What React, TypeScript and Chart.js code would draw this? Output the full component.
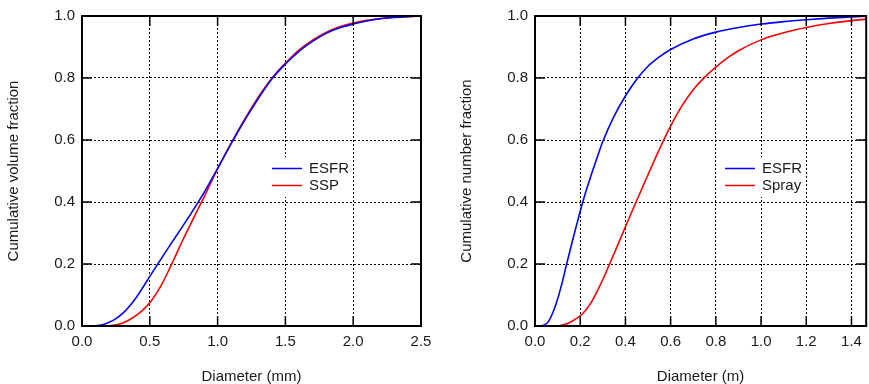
import React, { useEffect, useRef } from "react";
import { Chart, registerables } from "chart.js";

Chart.register(...registerables);

// ---- Left panel: cumulative volume fraction vs diameter (mm)
const volDiamESFR = [0, 0.1, 0.15, 0.2, 0.25, 0.3, 0.35, 0.4, 0.45, 0.5, 0.6, 0.7, 0.8, 0.9, 1.0, 1.1, 1.2, 1.3, 1.4, 1.5, 1.6, 1.7, 1.8, 1.9, 2.0, 2.1, 2.2, 2.3, 2.4, 2.5];
const volESFR = [0, 0.001, 0.004, 0.012, 0.024, 0.041, 0.064, 0.092, 0.125, 0.16, 0.228, 0.294, 0.36, 0.43, 0.508, 0.588, 0.664, 0.734, 0.797, 0.845, 0.886, 0.918, 0.944, 0.962, 0.974, 0.984, 0.991, 0.995, 0.998, 1.0];
const volDiamSSP = [0, 0.15, 0.2, 0.25, 0.3, 0.35, 0.4, 0.45, 0.5, 0.55, 0.6, 0.65, 0.7, 0.75, 0.8, 0.85, 0.9, 0.95, 1.0, 1.1, 1.2, 1.3, 1.4, 1.5, 1.6, 1.7, 1.8, 1.9, 2.0, 2.1, 2.2, 2.3, 2.4, 2.5];
const volSSP = [0, 0.0, 0.001, 0.004, 0.01, 0.02, 0.034, 0.052, 0.075, 0.106, 0.144, 0.189, 0.236, 0.283, 0.328, 0.372, 0.416, 0.462, 0.507, 0.59, 0.667, 0.738, 0.799, 0.848, 0.89, 0.922, 0.947, 0.965, 0.977, 0.986, 0.992, 0.996, 0.998, 1.0];

// ---- Right panel: cumulative number fraction vs diameter (m)
const numDiamESFR = [0, 0.03, 0.045, 0.06, 0.08, 0.1, 0.12, 0.14, 0.16, 0.18, 0.2, 0.22, 0.25, 0.27, 0.3, 0.35, 0.4, 0.45, 0.5, 0.55, 0.6, 0.7, 0.8, 0.9, 1.0, 1.1, 1.2, 1.3, 1.4, 1.465];
const numESFR = [0, 0.001, 0.005, 0.015, 0.045, 0.087, 0.14, 0.2, 0.258, 0.315, 0.37, 0.422, 0.49, 0.533, 0.595, 0.677, 0.742, 0.796, 0.838, 0.868, 0.892, 0.926, 0.948, 0.963, 0.974, 0.982, 0.988, 0.993, 0.997, 0.999];
const numDiamSpray = [0, 0.1, 0.125, 0.15, 0.175, 0.2, 0.225, 0.25, 0.275, 0.3, 0.33, 0.37, 0.4, 0.45, 0.5, 0.55, 0.6, 0.65, 0.7, 0.75, 0.8, 0.85, 0.9, 1.0, 1.1, 1.2, 1.3, 1.4, 1.465];
const numSpray = [0, 0.0, 0.004, 0.01, 0.02, 0.033, 0.052, 0.078, 0.112, 0.15, 0.2, 0.268, 0.32, 0.405, 0.488, 0.57, 0.645, 0.71, 0.762, 0.802, 0.835, 0.864, 0.888, 0.923, 0.946, 0.963, 0.976, 0.985, 0.99];

const FONT = "'Liberation Sans', Arial, sans-serif";
const TEXT = "#1a1a1a";

const pts = (xs: number[], ys: number[]) => xs.map((x, i) => ({ x, y: ys[i] }));

const framePlugin = {
  id: "frameTicksLegend",
  beforeDatasetsDraw(chart: any) {
    const { ctx, chartArea } = chart;
    const lx = chartArea.left + 186;
    const ly = chartArea.top + 141;
    ctx.save();
    ctx.fillStyle = "#fff";
    ctx.fillRect(lx, ly, 80, 40);
    ctx.restore();
  },
  afterDatasetsDraw(chart: any) {
    const { ctx, chartArea } = chart;
    const { left, top, right, bottom } = chartArea;
    const xs = chart.scales.x;
    const ys = chart.scales.y;
    ctx.save();
    ctx.strokeStyle = "#000";
    ctx.lineWidth = 1.5;
    const seg = (x1: number, y1: number, x2: number, y2: number) => {
      ctx.beginPath();
      ctx.moveTo(x1, y1);
      ctx.lineTo(x2, y2);
      ctx.stroke();
    };
    xs.ticks.forEach((t: any) => {
      const px = xs.getPixelForValue(t.value);
      seg(px, bottom, px, bottom - 10);
      seg(px, top, px, top + 10);
    });
    ys.ticks.forEach((t: any) => {
      const py = ys.getPixelForValue(t.value);
      seg(left, py, left + 10, py);
      seg(right, py, right - 10, py);
    });
    ctx.lineWidth = 2;
    ctx.strokeRect(left, top, right - left, bottom - top);

    // legend
    const x0 = left + 190;
    const y0 = top + 152.5;
    ctx.font = `15px ${FONT}`;
    ctx.textBaseline = "middle";
    ctx.textAlign = "left";
    chart.data.datasets.forEach((ds: any, i: number) => {
      const yy = y0 + i * 17;
      ctx.strokeStyle = ds.borderColor;
      ctx.lineWidth = 1.5;
      seg(x0, yy, x0 + 30, yy);
      ctx.fillStyle = TEXT;
      ctx.fillText(ds.label, x0 + 37, yy + 0.5);
    });
    ctx.restore();
  },
};

function makeConfig(opts: {
  series: { label: string; color: string; xs: number[]; ys: number[] }[];
  xMax: number;
  xStep: number;
  xTitle: string;
  yTitle: string;
  yWidth: number;
  yTitlePad: number;
  padRight: number;
}): any {
  return {
    type: "scatter",
    data: {
      datasets: opts.series.map((s) => ({
        label: s.label,
        data: pts(s.xs, s.ys),
        showLine: true,
        borderColor: s.color,
        backgroundColor: s.color,
        borderWidth: 1.6,
        pointRadius: 0,
        cubicInterpolationMode: "monotone",
      })),
    },
    options: {
      responsive: false,
      animation: false,
      layout: { padding: { top: 14, right: opts.padRight, left: 0, bottom: 0 } },
      plugins: { legend: { display: false }, tooltip: { enabled: false } },
      scales: {
        x: {
          type: "linear",
          min: 0,
          max: opts.xMax,
          afterFit: (s: any) => {
            s.height = 58;
          },
          ticks: {
            stepSize: opts.xStep,
            includeBounds: false,
            padding: 7,
            color: TEXT,
            font: { family: FONT, size: 15 },
            maxRotation: 0,
            callback: (v: number) => v.toFixed(1),
          },
          grid: { color: "#000", lineWidth: 1, drawTicks: false },
          border: { display: false, dash: [2, 2] },
          title: {
            display: true,
            text: opts.xTitle,
            color: TEXT,
            font: { family: FONT, size: 15, lineHeight: 1 },
            padding: { top: 0, bottom: 0 },
          },
        },
        y: {
          type: "linear",
          min: 0,
          max: 1,
          afterFit: (s: any) => {
            s.width = opts.yWidth;
          },
          ticks: {
            stepSize: 0.2,
            padding: 7,
            color: TEXT,
            font: { family: FONT, size: 15 },
            callback: (v: number) => v.toFixed(1),
          },
          grid: { color: "#000", lineWidth: 1, drawTicks: false },
          border: { display: false, dash: [2, 2] },
          title: {
            display: true,
            text: opts.yTitle,
            color: TEXT,
            font: { family: FONT, size: 15, lineHeight: 1 },
            padding: { top: opts.yTitlePad, bottom: 0 },
          },
        },
      },
    },
    plugins: [framePlugin],
  };
}

function Panel(props: { config: any; width: number; left: number }) {
  const ref = useRef<HTMLCanvasElement>(null);
  useEffect(() => {
    if (!ref.current) return;
    const c = new Chart(ref.current, props.config);
    return () => c.destroy();
  }, []);
  return (
    <canvas
      ref={ref}
      width={props.width}
      height={384}
      style={{ position: "absolute", left: props.left, top: 0, width: props.width, height: 384 }}
    />
  );
}

export default function App() {
  document.body.style.margin = "0";
  const leftCfg = makeConfig({
    series: [
      { label: "ESFR", color: "#0000ff", xs: volDiamESFR, ys: volESFR },
      { label: "SSP", color: "#ff0000", xs: volDiamSSP, ys: volSSP },
    ],
    xMax: 2.5,
    xStep: 0.5,
    xTitle: "Diameter (mm)",
    yTitle: "Cumulative volume fraction",
    yWidth: 82,
    yTitlePad: 6,
    padRight: 19,
  });
  const rightCfg = makeConfig({
    series: [
      { label: "ESFR", color: "#0000ff", xs: numDiamESFR, ys: numESFR },
      { label: "Spray", color: "#ff0000", xs: numDiamSpray, ys: numSpray },
    ],
    xMax: 1.465,
    xStep: 0.2,
    xTitle: "Diameter (m)",
    yTitle: "Cumulative number fraction",
    yWidth: 95,
    yTitlePad: 19,
    padRight: 2,
  });
  return (
    <div style={{ position: "relative", width: 869, height: 384, background: "#fff" }}>
      <Panel config={leftCfg} width={440} left={0} />
      <Panel config={rightCfg} width={429} left={440} />
    </div>
  );
}
